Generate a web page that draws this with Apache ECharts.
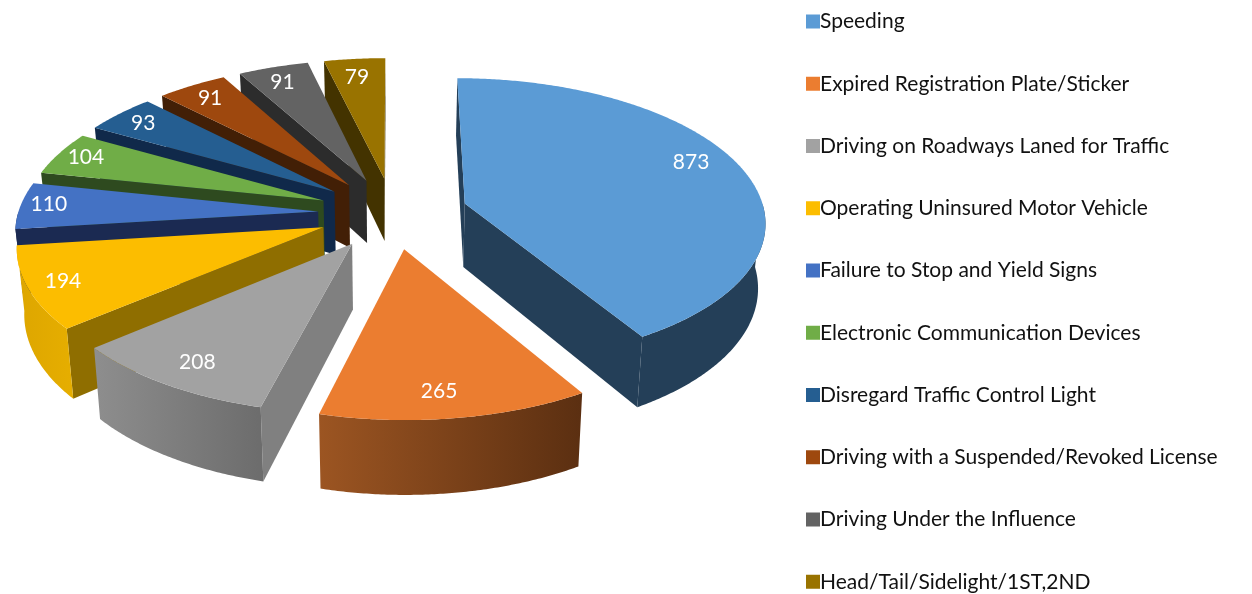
<!DOCTYPE html>
<html>
<head>
<meta charset="utf-8">
<style>html,body{margin:0;padding:0;background:#fff}#c{width:1252px;height:594px}</style>
<script src="https://cdn.jsdelivr.net/npm/echarts@6/dist/echarts.min.js"></script>
</head>
<body>
<div id="c"></div>
<script>
var categories = ['Speeding','Expired Registration Plate/Sticker','Driving on Roadways Laned for Traffic','Operating Uninsured Motor Vehicle','Failure to Stop and Yield Signs','Electronic Communication Devices','Disregard Traffic Control Light','Driving with a Suspended/Revoked License','Driving Under the Influence','Head/Tail/Sidelight/1ST,2ND'];
var values = [873,265,208,194,110,104,93,91,91,79];

var topColors = ['#5B9BD5','#EB7D30','#A2A2A2','#FCBD00','#4472C4','#70AD47','#255E91','#9E480E','#636363','#997300'];
var cutColors = ['#243F58','#5B2F11','#808080','#8F6E00','#1B2A52','#2E4A1F','#10294A','#421F06','#2C2C2C','#433300'];
var arcLeft   = ['#243F58','#9C5522','#8E8E8E','#DDA600','#1B2A52','#2E4A1F','#10294A','#421F06','#2C2C2C','#433300'];
var arcRight  = ['#243F58','#5B2F11','#6C6C6C','#E6AE00','#1B2A52','#2E4A1F','#10294A','#421F06','#2C2C2C','#433300'];
var paintOrder = [8,9,7,6,5,4,3,2,1,0].reverse();
var paintRank = [8,9,7,6,5,4,3,2,1,0];
var labelNudge = [[4,-12],[-5.5,10],[-9,8],[-26.5,6],[-31,-3],[-24.5,-5.5],[-17,-5.5],[-11,-6],[-8,-6],[-3,-4]];

var CX=393, CY=213, RX=300, RY=142, K=0.116, EXPLODE=0.25, DEPTH=64, SHRINK=0.98, LABEL_R=0.8;
var FONT='Lato, Carlito, sans-serif';
var total = values.reduce(function(a,b){return a+b;},0);
var rad = Math.PI/180;

function project(X,Y,bottom){
  var s=1/(1-K*Y), x=RX*X*s, y=CY+RY*Y*s;
  if(bottom){ x*=SHRINK; y+=DEPTH*s; }
  return [CX+x,y];
}
function sliceAngles(i){
  var before=0; for(var j=0;j<i;j++) before+=values[j];
  return [before/total*360,(before+values[i])/total*360];
}
function cross(a,b){return a[0]*b[1]-a[1]*b[0];}

function renderSlice(i,api){
  var v=api.value(0), ang=sliceAngles(i), a0=ang[0], a1=a0+v/total*360, mid=(a0+a1)/2;
  var ex=EXPLODE*Math.sin(mid*rad), ey=-EXPLODE*Math.cos(mid*rad);
  function disc(deg,b){return project(ex+Math.sin(deg*rad),ey-Math.cos(deg*rad),b);}
  var apexT=project(ex,ey,false), apexB=project(ex,ey,true);
  var steps=Math.max(2,Math.ceil(a1-a0)*2), topPts=[apexT], t;
  for(t=0;t<=steps;t++) topPts.push(disc(a0+(a1-a0)*t/steps,false));
  var midT=disc(mid,false), kids=[];
  [a0,a1].forEach(function(edge){
    var B=disc(edge,false), e=[B[0]-apexT[0],B[1]-apexT[1]], m=[midT[0]-apexT[0],midT[1]-apexT[1]];
    if(cross(e,m)*cross(e,[0,1])<0){
      kids.push({type:'polygon',shape:{points:[apexT,B,disc(edge,true),apexB]},style:{fill:cutColors[i]}});
    }
  });
  var fa=Math.max(a0,90), fb=Math.min(a1,270);
  if(fb>fa){
    var up=[],dn=[],n=Math.ceil(fb-fa)*2;
    for(t=0;t<=n;t++){var d=fa+(fb-fa)*t/n; up.push(disc(d,false)); dn.unshift(disc(d,true));}
    kids.push({type:'polygon',shape:{points:up.concat(dn)},style:{
      fill:new echarts.graphic.LinearGradient(1,0,0,0,[{offset:0,color:arcRight[i]},{offset:1,color:arcLeft[i]}])
    }});
  }
  kids.push({type:'polygon',shape:{points:topPts},style:{fill:topColors[i]}});
  var lp=project(ex+LABEL_R*Math.sin(mid*rad),ey-LABEL_R*Math.cos(mid*rad),false);
  kids.push({type:'text',style:{text:String(v),x:lp[0]+labelNudge[i][0],y:lp[1]+labelNudge[i][1],
    fill:'#fff',font:'21px '+FONT,textAlign:'center',textVerticalAlign:'middle'}});
  return {type:'group',children:kids};
}

var series = categories.map(function(name,i){
  return {
    type:'custom',name:name,coordinateSystem:'none',z:2+paintRank[i]*0+ (10-i>0?0:0),
    zlevel:0,color:topColors[i],itemStyle:{color:topColors[i]},silent:true,
    data:[[values[i]]],
    renderItem:function(p,api){return renderSlice(i,api);}
  };
});
// far slices first, near slices last
var drawOrder=[9,8,7,6,5,4,3,2,0,1];
drawOrder.forEach(function(idx,rank){series[idx].z=2+rank;});

var chart=echarts.init(document.getElementById('c'),null,{renderer:'canvas'});
chart.setOption({
  animation:false,
  backgroundColor:'#fff',
  legend:{
    data:categories,orient:'vertical',left:806,top:9,height:660,width:440,padding:0,
    itemWidth:14,itemHeight:14,itemGap:37.25,icon:'rect',selectedMode:false,
    textStyle:{fontFamily:FONT,fontSize:21,lineHeight:25,color:'#111',padding:[0,0,0,-5]}
  },
  series:series
});
</script>
</body>
</html>
